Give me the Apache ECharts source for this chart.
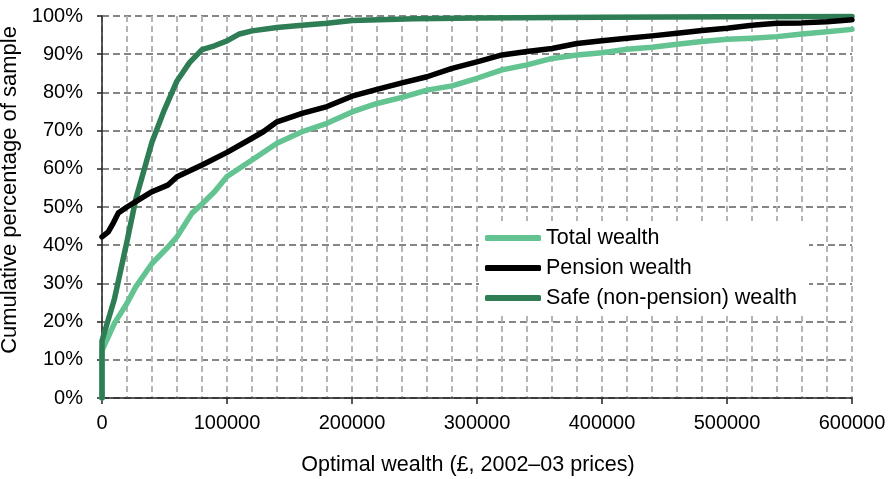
<!DOCTYPE html>
<html lang="en">
<head>
    <meta charset="UTF-8"/>
    <title>Optimal wealth distribution</title>
    <script src="https://cdn.jsdelivr.net/npm/echarts@6/dist/echarts.min.js"></script>
    <style>
        html, body { margin: 0; padding: 0; background: #fff; }
        #main { width: 888px; height: 479px; }
    </style>
</head>
<body>
<div id="main"></div>
<script type="text/javascript">
    // series data: wealth in £ and cumulative share in %
    var totalX = [0, 0, 5000, 10000, 20000, 27000, 40000, 53000, 60000, 72000, 80000, 90000, 100000,
        120000, 140000, 160000, 180000, 200000, 220000, 240000, 260000, 280000, 300000, 320000, 340000,
        360000, 380000, 400000, 420000, 440000, 460000, 480000, 500000, 520000, 540000, 560000, 580000, 600000];
    var totalY = [0, 12.5, 16, 19.6, 24.8, 29.1, 35.2, 39.6, 42.2, 48.4, 50.8, 54, 58,
        62.3, 66.7, 69.7, 71.9, 74.9, 77.1, 78.7, 80.6, 81.7, 83.7, 85.9, 87.2,
        88.9, 89.8, 90.4, 91.3, 91.8, 92.6, 93.3, 93.9, 94.2, 94.6, 95.3, 95.9, 96.5];

    var pensionX = [0, 5000, 9000, 13000, 20000, 27000, 40000, 53000, 60000, 80000, 100000,
        120000, 129000, 140000, 160000, 180000, 200000, 220000, 240000, 260000, 280000, 300000, 320000,
        340000, 360000, 380000, 400000, 420000, 440000, 460000, 480000, 500000, 520000, 540000, 560000, 580000, 600000];
    var pensionY = [42.2, 43.5, 45.8, 48.4, 50, 51.4, 54, 55.8, 57.9, 61, 64.3,
        68, 69.7, 72.3, 74.5, 76.3, 79, 80.8, 82.5, 84.1, 86.3, 88, 89.8,
        90.7, 91.5, 92.8, 93.5, 94.2, 94.8, 95.5, 96.2, 96.8, 97.6, 98.1, 98.2, 98.5, 99];

    var safeX = [0, 0, 5000, 10000, 20000, 27000, 40000, 50000, 60000, 70000, 80000, 90000, 100000,
        110000, 120000, 140000, 160000, 180000, 200000, 250000, 300000, 400000, 500000, 600000];
    var safeY = [0, 15, 20.5, 26, 41, 52, 67, 75.5, 83, 87.8, 91.2, 92.2, 93.5,
        95.3, 96.1, 97, 97.6, 98.1, 98.8, 99.3, 99.5, 99.7, 99.8, 99.9];

    var seriesNames = ['Total wealth', 'Pension wealth', 'Safe (non-pension) wealth'];
    var seriesColors = ['#63c391', '#000000', '#2e7d55'];

    function pairs(xs, ys) {
        var out = [];
        for (var i = 0; i < xs.length; i++) {
            out.push([xs[i], ys[i]]);
        }
        return out;
    }

    var chart = echarts.init(document.getElementById('main'));
    var font = "'Liberation Sans', Arial, sans-serif";

    var lineSeries = [pairs(totalX, totalY), pairs(pensionX, pensionY), pairs(safeX, safeY)].map(function (d, i) {
        return {
            name: seriesNames[i],
            type: 'line',
            data: d,
            showSymbol: false,
            symbol: 'none',
            z: i === 1 ? 3 : 2,
            color: seriesColors[i],
            lineStyle: { width: 5.5, color: seriesColors[i], cap: 'round', join: 'round' }
        };
    });

    chart.setOption({
        animation: false,
        backgroundColor: '#fff',
        textStyle: { fontFamily: font },
        grid: { left: 102, right: 36, top: 16, bottom: 81, outerBoundsMode: 'none', containLabel: false },
        legend: {
            data: seriesNames,
            orient: 'vertical',
            left: 479,
            top: 221,
            backgroundColor: '#fff',
            padding: [6, 12, 6, 6],
            itemWidth: 56,
            itemHeight: 6,
            itemGap: 8,
            icon: 'roundRect',
            textStyle: { fontSize: 21.5, color: '#000', fontFamily: font }
        },
        xAxis: {
            type: 'value',
            min: 0,
            max: 600000,
            interval: 100000,
            name: 'Optimal wealth (£, 2002–03 prices)',
            nameLocation: 'middle',
            nameGap: 56,
            nameTextStyle: { fontSize: 21.5, color: '#000', padding: [0, 18, 0, 0] },
            axisLine: { lineStyle: { color: '#222', width: 1.5 } },
            axisTick: { show: true, length: 6, lineStyle: { color: '#222', width: 1.5 } },
            axisLabel: { fontSize: 20, color: '#000', margin: 15, formatter: function (v) { return String(v); } },
            splitLine: { show: true, lineStyle: { color: '#b4b4b4', width: 2, type: [6, 4] } },
            minorTick: { show: false, splitNumber: 5 },
            minorSplitLine: { show: true, lineStyle: { color: '#b4b4b4', width: 2, type: [6, 4] } }
        },
        yAxis: {
            type: 'value',
            min: 0,
            max: 100,
            interval: 10,
            name: 'Cumulative percentage of sample',
            nameLocation: 'middle',
            nameGap: 74,
            nameTextStyle: { fontSize: 22, color: '#000', padding: [0, 0, 0, 34] },
            axisLine: { show: true, lineStyle: { color: '#222', width: 1.5 } },
            axisTick: { show: true, length: 5, lineStyle: { color: '#222', width: 1.5 } },
            axisLabel: { fontSize: 20, color: '#000', margin: 19, formatter: '{value}%' },
            splitLine: { show: true, lineStyle: { color: '#858585', width: 2, type: [7, 4] } }
        },
        series: lineSeries
    });
</script>
</body>
</html>
